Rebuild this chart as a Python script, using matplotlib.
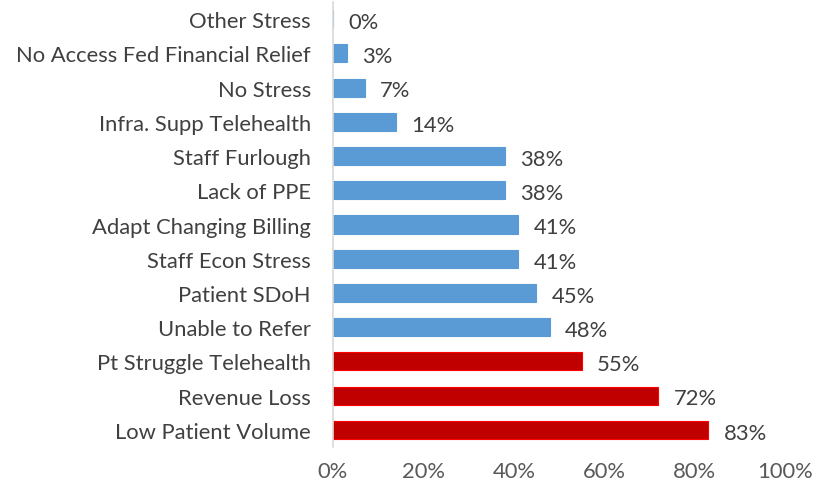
import matplotlib.pyplot as plt
from matplotlib.ticker import PercentFormatter

categorias = ['Low Patient Volume', 'Revenue Loss', 'Pt Struggle Telehealth',
              'Unable to Refer', 'Patient SDoH', 'Staff Econ Stress',
              'Adapt Changing Billing', 'Lack of PPE', 'Staff Furlough',
              'Infra. Supp Telehealth', 'No Stress',
              'No Access Fed Financial Relief', 'Other Stress']
valores = [83, 72, 55, 48, 45, 41, 41, 38, 38, 14, 7, 3, 0]
destaque = [True, True, True] + [False] * 10

plt.rcParams['font.family'] = ['Lato', 'DejaVu Sans']

fig = plt.figure(figsize=(8.26, 4.89), dpi=100)
ax = fig.add_axes([333 / 826, 1 - 448 / 489, (785 - 333) / 826, (448 - 3) / 489])

cores = ['#C00000' if d else '#5B9BD5' for d in destaque]
bordas = ['#FF0000' if d else '#5B9BD5' for d in destaque]
y = range(len(categorias))
ax.barh(y, valores, height=0.53, color=cores, edgecolor=bordas, linewidth=0.8)

for i, v in enumerate(valores):
    ax.annotate(f'{v}%', (v, i), xytext=(11, -2), textcoords='offset points',
                va='center', ha='left', fontsize=15.8, color='#404040')

ax.set_xlim(0, 100)
ax.set_ylim(-0.5, len(categorias) - 0.5)
ax.set_yticks(list(y))
ax.set_yticklabels(categorias, fontsize=15.8, color='#404040')
ax.set_xticks([0, 20, 40, 60, 80, 100])
ax.xaxis.set_major_formatter(PercentFormatter(decimals=0))
ax.tick_params(axis='x', labelsize=15.8, labelcolor='#595959', length=0, pad=10)
ax.tick_params(axis='y', length=0, pad=16)
for s in ['top', 'right', 'bottom']:
    ax.spines[s].set_visible(False)
ax.spines['left'].set_color('#D9D9D9')
ax.spines['left'].set_linewidth(1.2)

fig.savefig('out.png', dpi=100)
